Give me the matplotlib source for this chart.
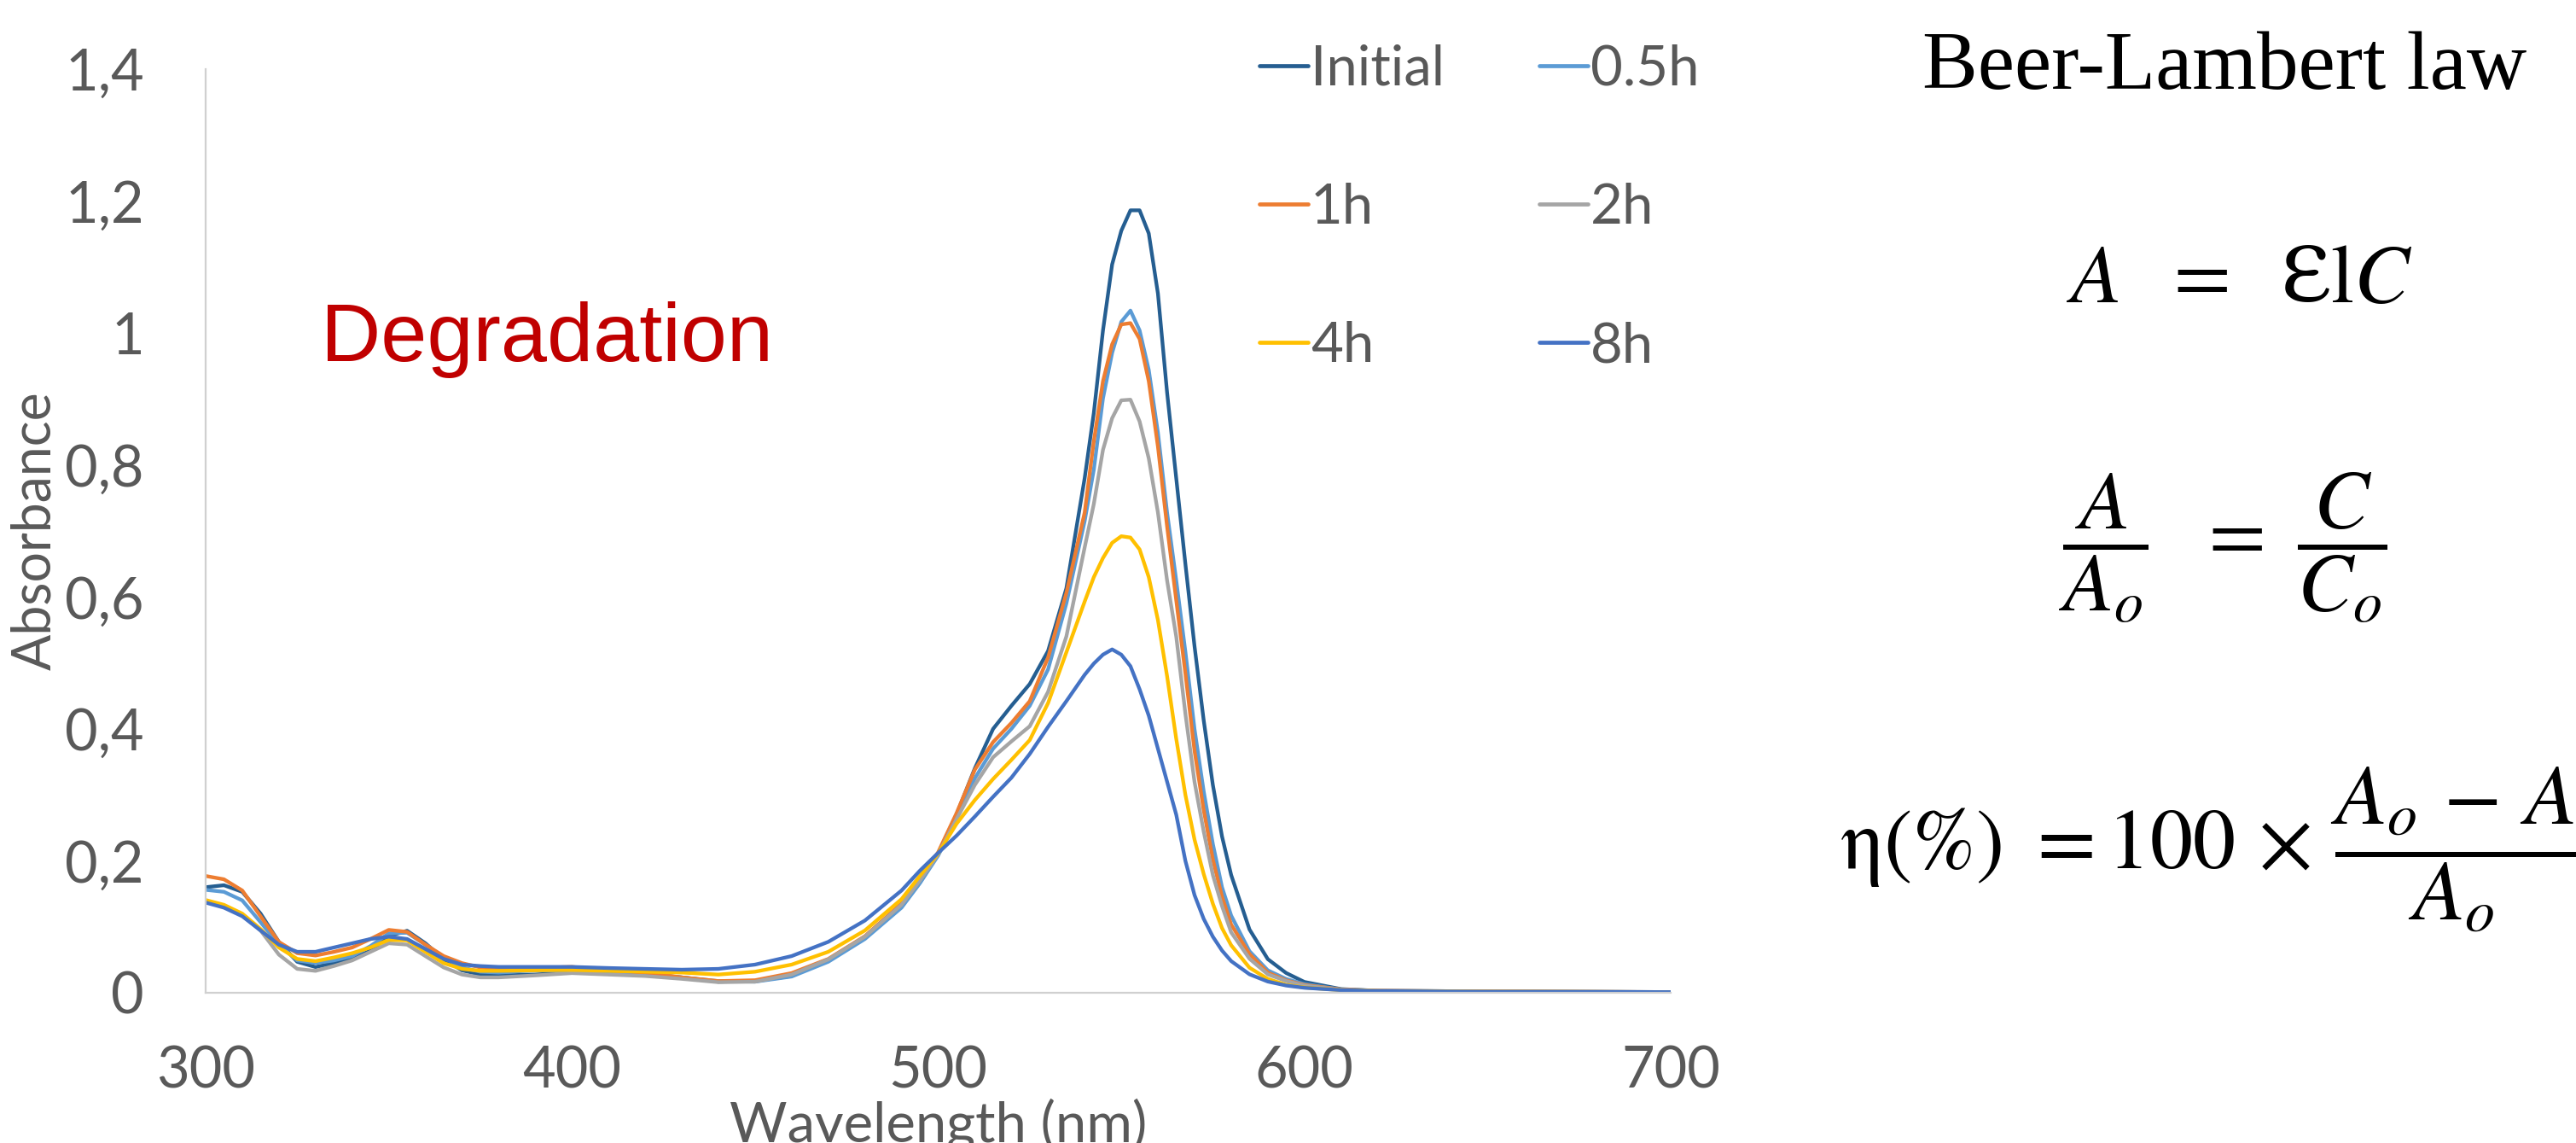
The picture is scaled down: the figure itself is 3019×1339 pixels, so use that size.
import matplotlib
matplotlib.use("Agg")
import matplotlib.pyplot as plt
from matplotlib.ticker import FixedLocator, FixedFormatter

plt.rcParams['mathtext.fontset'] = 'stix'

wavelength = [300, 305, 310, 315, 320, 325, 330, 335, 340, 345,
              350, 355, 360, 365, 370, 375, 380, 390, 400, 410,
              420, 430, 440, 450, 460, 470, 480, 490, 495, 500,
              505, 510, 515, 520, 525, 530, 535, 540, 542.5, 545,
              547.5, 550, 552.5, 555, 557.5, 560, 562.5, 565, 567.5, 570,
              572.5, 575, 577.5, 580, 585, 590, 595, 600, 610, 620,
              650, 700]

initial = [0.160, 0.163, 0.153, 0.120, 0.077, 0.047, 0.039, 0.045, 0.051, 0.064,
           0.086, 0.094, 0.075, 0.051, 0.034, 0.0276, 0.0263, 0.0276, 0.031, 0.0306,
           0.0289, 0.0233, 0.0168, 0.0177, 0.0254, 0.0492, 0.0837, 0.131, 0.167, 0.211,
           0.27, 0.34, 0.40, 0.435, 0.468, 0.518, 0.613, 0.78, 0.879, 1.004,
           1.104, 1.155, 1.186, 1.186, 1.151, 1.06, 0.91, 0.78, 0.65, 0.525,
           0.413, 0.315, 0.237, 0.1785, 0.096, 0.051, 0.030, 0.0164, 0.0056, 0.003,
           0.002, 0.001]

h05 = [0.156, 0.153, 0.140, 0.107, 0.073, 0.049, 0.045, 0.049, 0.0556, 0.0707,
       0.090, 0.091, 0.073, 0.0535, 0.0384, 0.0319, 0.0306, 0.034, 0.034, 0.0306,
       0.0276, 0.0233, 0.0177, 0.0168, 0.0246, 0.047, 0.0815, 0.129, 0.166, 0.208,
       0.263, 0.325, 0.37, 0.40, 0.435, 0.49, 0.59, 0.715, 0.793, 0.901,
       0.970, 1.017, 1.034, 1.004, 0.944, 0.849, 0.728, 0.625, 0.517, 0.3994,
       0.3054, 0.2255, 0.16, 0.117, 0.063, 0.034, 0.021, 0.013, 0.005, 0.003,
       0.002, 0.001]

h1 = [0.177, 0.172, 0.155, 0.116, 0.077, 0.060, 0.0565, 0.062, 0.0686, 0.0815,
      0.0953, 0.0923, 0.073, 0.0556, 0.0449, 0.0384, 0.0362, 0.0375, 0.0392, 0.034,
      0.0306, 0.0233, 0.0177, 0.019, 0.0298, 0.0513, 0.0858, 0.1354, 0.172, 0.213,
      0.272, 0.338, 0.38, 0.409, 0.442, 0.508, 0.606, 0.728, 0.836, 0.927,
      0.983, 1.013, 1.015, 0.991, 0.927, 0.828, 0.707, 0.595, 0.484, 0.3665,
      0.277, 0.202, 0.1456, 0.1033, 0.0587, 0.0305, 0.0187, 0.0117, 0.005, 0.003,
      0.002, 0.001]

h2 = [0.1376, 0.131, 0.118, 0.0944, 0.0578, 0.0362, 0.0332, 0.0405, 0.049, 0.062,
      0.075, 0.073, 0.0556, 0.0384, 0.0276, 0.0233, 0.0233, 0.0263, 0.0298, 0.0276,
      0.0254, 0.0211, 0.016, 0.0168, 0.0276, 0.0505, 0.085, 0.1333, 0.17, 0.210,
      0.263, 0.315, 0.357, 0.381, 0.404, 0.456, 0.540, 0.675, 0.741, 0.823,
      0.871, 0.898, 0.899, 0.866, 0.81, 0.728, 0.625, 0.54, 0.423, 0.3195,
      0.2444, 0.1785, 0.1315, 0.0916, 0.0516, 0.028, 0.0178, 0.0108, 0.0045, 0.0025,
      0.0015, 0.001]

h4 = [0.1406, 0.1333, 0.120, 0.0966, 0.0686, 0.0513, 0.0479, 0.0535, 0.060, 0.0686,
      0.0802, 0.0794, 0.0621, 0.0449, 0.0362, 0.0332, 0.0332, 0.034, 0.0345, 0.0332,
      0.0319, 0.0306, 0.0276, 0.0319, 0.0427, 0.0621, 0.0944, 0.1419, 0.177, 0.211,
      0.256, 0.292, 0.324, 0.353, 0.383, 0.439, 0.516, 0.593, 0.63, 0.659,
      0.682, 0.692, 0.69, 0.672, 0.63, 0.565, 0.48, 0.385, 0.30, 0.232,
      0.18, 0.135, 0.098, 0.072, 0.038, 0.021, 0.012, 0.008, 0.004, 0.0025,
      0.0015, 0.001]

h8 = [0.1367, 0.129, 0.116, 0.0944, 0.0729, 0.0621, 0.0621, 0.0686, 0.075, 0.0815,
      0.085, 0.0815, 0.0664, 0.0513, 0.0427, 0.0405, 0.0392, 0.0392, 0.0392, 0.0375,
      0.0362, 0.035, 0.0362, 0.0427, 0.0556, 0.0772, 0.1095, 0.155, 0.185, 0.212,
      0.238, 0.267, 0.297, 0.326, 0.362, 0.403, 0.442, 0.482, 0.499, 0.5125,
      0.5205, 0.5125, 0.495, 0.46, 0.42, 0.37, 0.32, 0.27, 0.2, 0.148,
      0.112, 0.085, 0.064, 0.048, 0.028, 0.017, 0.011, 0.0075, 0.004, 0.0025,
      0.0015, 0.001]

series_labels = ["Initial", "0.5h", "1h", "2h", "4h", "8h"]
series_values = [initial, h05, h1, h2, h4, h8]
series_colors = ["#255E91", "#5B9BD5", "#ED7D31", "#A5A5A5", "#FFC000", "#4472C4"]

x_ticks = [300, 400, 500, 600, 700]
y_ticks = [0, 0.2, 0.4, 0.6, 0.8, 1.0, 1.2, 1.4]
y_tick_labels = ["0", "0,2", "0,4", "0,6", "0,8", "1", "1,2", "1,4"]

TXT = "#595959"
W, H = 3019, 1339
fig = plt.figure(figsize=(W / 100, H / 100), dpi=100)
ax = fig.add_axes([241 / W, 1 - 1163 / H, (1958 - 241) / W, (1163 - 81) / H])

lines = []
for lab, vals, col in zip(series_labels, series_values, series_colors):
    ln, = ax.plot(wavelength, vals, color=col, lw=3.1, label=lab,
                  solid_joinstyle='round', solid_capstyle='round')
    lines.append(ln)

ax.set_xlim(300, 700)
ax.set_ylim(0, 1.4)
ax.xaxis.set_major_locator(FixedLocator(x_ticks))
ax.yaxis.set_major_locator(FixedLocator(y_ticks))
ax.yaxis.set_major_formatter(FixedFormatter(y_tick_labels))
ax.tick_params(axis='x', length=0, pad=44)
ax.tick_params(axis='y', length=0, pad=52)
for t in ax.get_xticklabels() + ax.get_yticklabels():
    t.set_fontfamily("Lato")
    t.set_fontweight("normal")
    t.set_fontsize(48)
    t.set_color(TXT)

for s in ["top", "right"]:
    ax.spines[s].set_visible(False)
for s in ["left", "bottom"]:
    ax.spines[s].set_color("#D0D0D0")
    ax.spines[s].set_linewidth(1.6)

ax.set_xlabel("Wavelength (nm)", fontfamily="Lato", fontsize=47,
              color=TXT, labelpad=0)
ax.set_ylabel("Absorbance", fontfamily="Lato", fontsize=45,
              color=TXT, labelpad=4)

# row-major legend order (Initial, 0.5h / 1h, 2h / 4h, 8h) with ncol=2
order = [0, 2, 4, 1, 3, 5]
leg = ax.legend([lines[i] for i in order], [series_labels[i] for i in order],
                ncol=2, loc="upper left", bbox_to_anchor=(1476 / W, 1 - 52 / H),
                bbox_transform=fig.transFigure, frameon=False,
                prop=dict(family="Lato", size=47),
                handlelength=0.87, handletextpad=0.05, columnspacing=1.7,
                labelspacing=1.58, borderpad=0, borderaxespad=0)
for t in leg.get_texts():
    t.set_color(TXT)
for h in leg.get_lines():
    h.set_linewidth(3.4)

fig.text(641 / W, 1 - 398 / H, "Degradation", color="#C00000", fontsize=70,
         family="Liberation Sans", ha="center", va="center")

fig.text(2607 / W, 1 - 81 / H, "Beer-Lambert law", fontsize=70,
         family="Liberation Serif", ha="center", va="center", color="black")

fig.text(2625 / W, 1 - 327 / H, r"$A\ \ =\ \ \mathrm{Ɛl}C$", fontsize=70,
         ha="center", va="center", color="black")

fig.text(2605 / W, 1 - 641 / H, r"$\dfrac{A}{A_o}\ \ = \ \dfrac{C}{C_o}$", fontsize=70,
         ha="center", va="center", color="black")

fig.text(2156 / W, 1 - 995 / H,
         r"$\mathrm{\eta(\%)}\ {=}100\,\times\,\dfrac{A_o\,-\,A}{A_o}$",
         fontsize=72, ha="left", va="center", color="black")

fig.savefig("out.png", dpi=100, facecolor="white")
